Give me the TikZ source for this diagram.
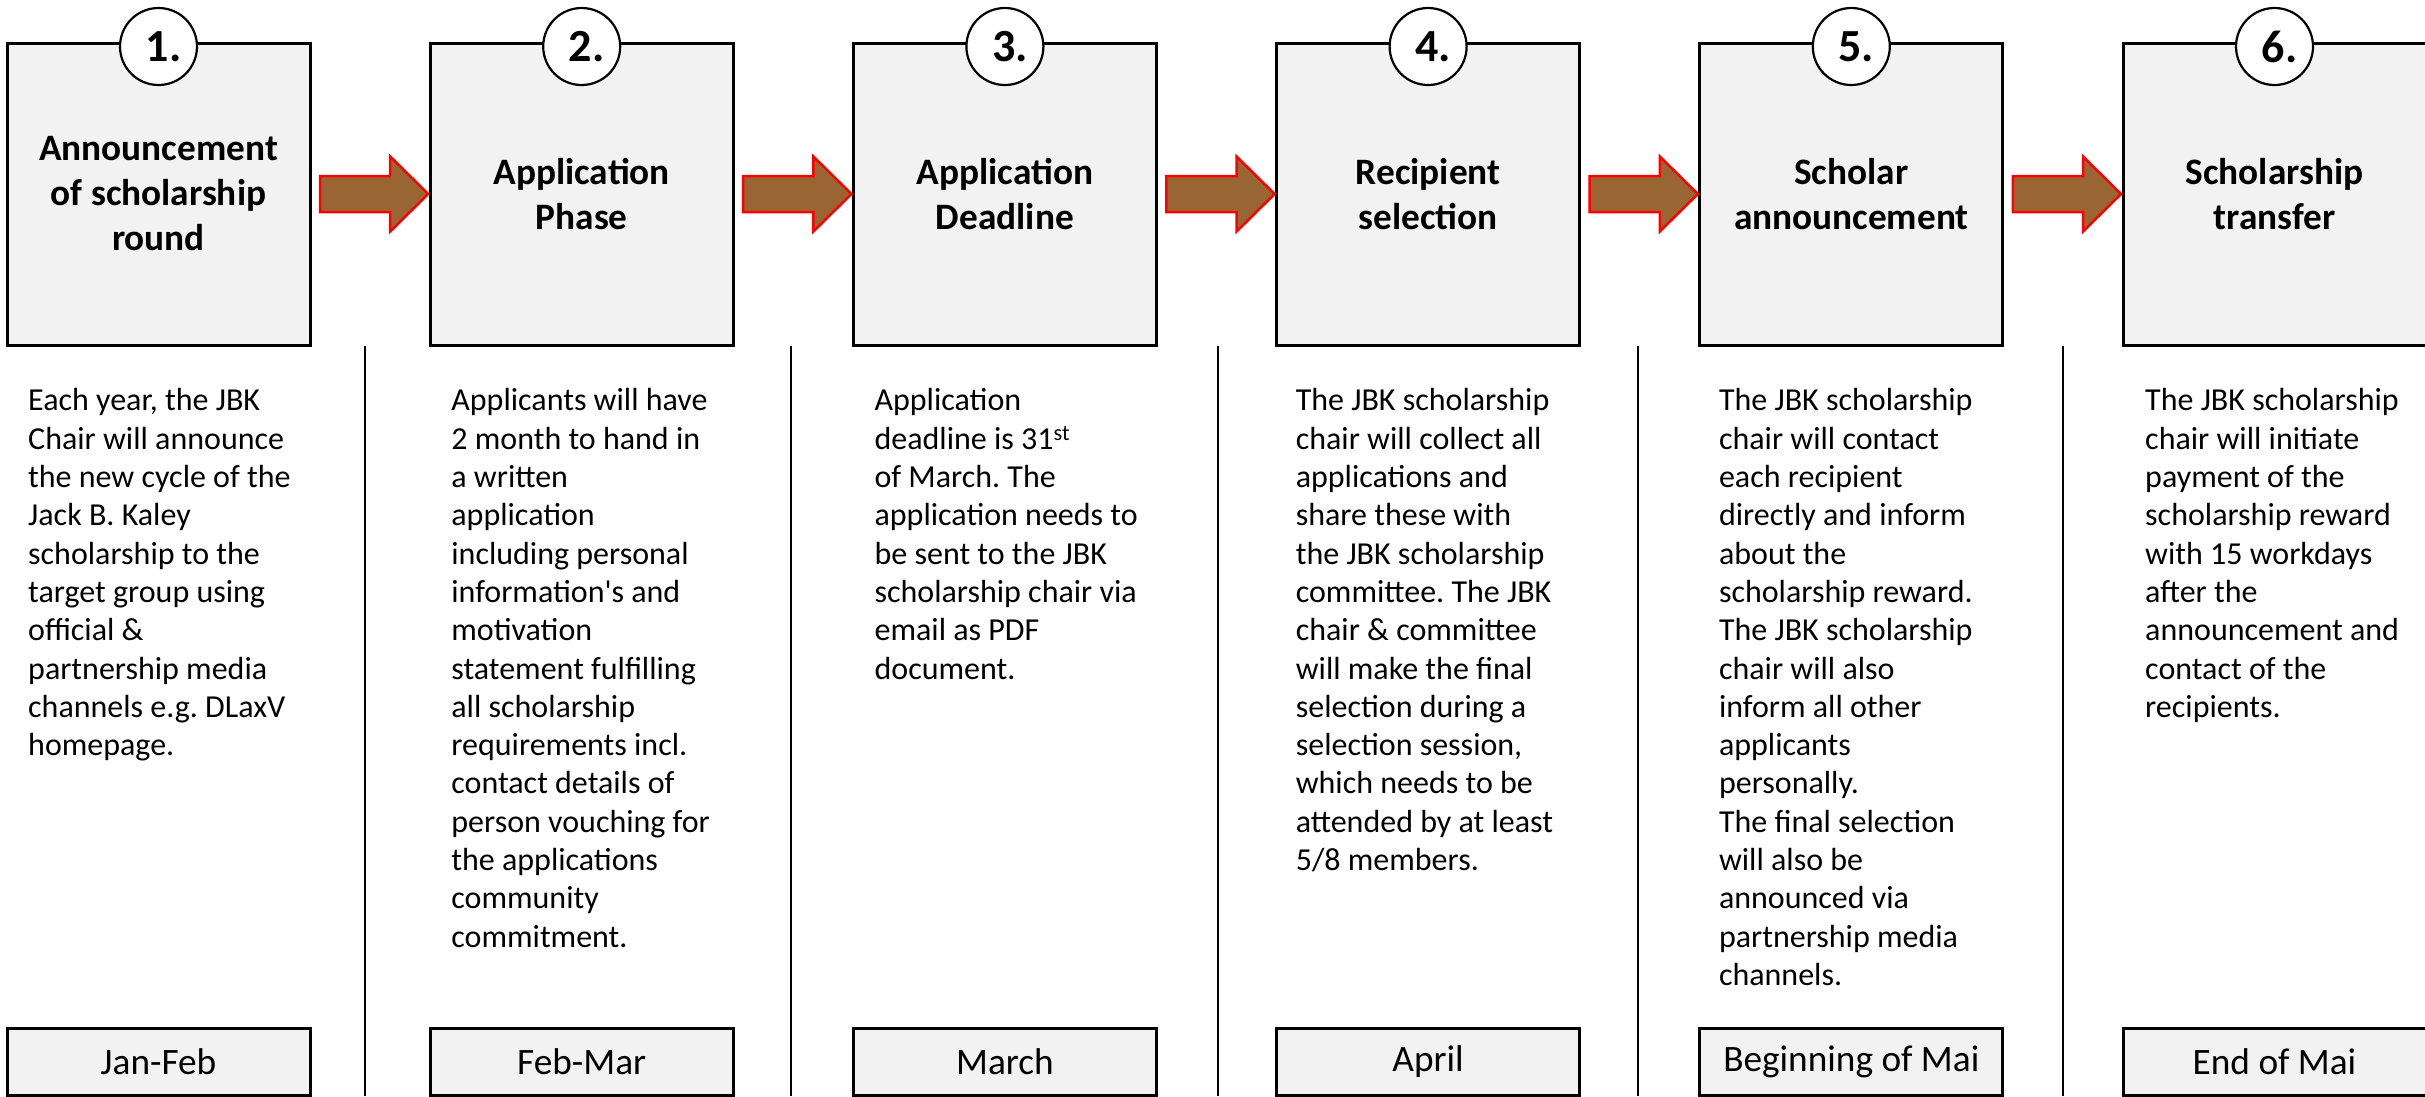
\documentclass[tikz,border=0pt]{standalone}
\usepackage{fontspec}
\setmainfont{Carlito}
\usetikzlibrary{calc}
\definecolor{boxfill}{HTML}{F2F2F2}
\definecolor{arrowfill}{HTML}{996633}
\begin{document}
\begin{tikzpicture}[x=1pt,y=-1pt,
  stepbox/.style={draw=black, line width=3pt, fill=boxfill, minimum width=303pt, minimum height=302pt,
    inner sep=0pt, outer sep=0pt, align=center, font=\fontsize{37.3}{45}\selectfont\bfseries\frenchspacing},
  numcircle/.style={circle, draw=black, line width=2.2pt, fill=white, minimum size=77pt, inner sep=0pt,
    font=\fontsize{46}{46}\selectfont\bfseries},
  bodytext/.style={anchor=north west, inner sep=0pt, align=left, font=\fontsize{32}{38.3}\selectfont\frenchspacing},
  datebox/.style={draw=black, line width=3pt, fill=boxfill, minimum width=303pt, minimum height=67pt,
    inner sep=0pt, outer sep=0pt, font=\fontsize{37.3}{45}\selectfont},
  blockarrow/.style={draw=red, line width=2.5pt, fill=arrowfill, line join=miter},
  divider/.style={draw=black, line width=2pt}]

\useasboundingbox (0,0) rectangle (2425,1096);

% step boxes
\node[stepbox] (b1) at (158.5,194) {Announcement\\of scholarship\\round};
\node[stepbox] (b2) at (581.7,194) {Application\\Phase};
\node[stepbox] (b3) at (1004.9,194) {Application\\Deadline};
\node[stepbox] (b4) at (1428.1,194) {Recipient\\selection};
\node[stepbox] (b5) at (1851.3,194) {Scholar\\announcement};
\node[stepbox] (b6) at (2274.5,194) {Scholarship\\transfer};

% number circles
\node[numcircle] (c1) at ($(b1.north)+(0,3.5)$) {\hspace*{10pt}1.};
\node[numcircle] (c2) at ($(b2.north)+(0,3.5)$) {\hspace*{10pt}2.};
\node[numcircle] (c3) at ($(b3.north)+(0,3.5)$) {\hspace*{10pt}3.};
\node[numcircle] (c4) at ($(b4.north)+(0,3.5)$) {\hspace*{10pt}4.};
\node[numcircle] (c5) at ($(b5.north)+(0,3.5)$) {\hspace*{10pt}5.};
\node[numcircle] (c6) at ($(b6.north)+(0,3.5)$) {\hspace*{10pt}6.};

% block arrows
\foreach \a/\b in {b1/b2,b2/b3,b3/b4,b4/b5,b5/b6}{
  \draw[blockarrow] ($(\a.east)+(10,-18)$) -- ($(\b.west)+(-40,-18)$) -- ($(\b.west)+(-40,-37.5)$)
    -- ($(\b.west)+(-2,0)$) -- ($(\b.west)+(-40,37.5)$) -- ($(\b.west)+(-40,18)$)
    -- ($(\a.east)+(10,18)$) -- cycle;
}

% dividers
\draw[divider] (365,345.5) -- (365,1096);
\draw[divider] (791,345.5) -- (791,1096);
\draw[divider] (1217.7,345.5) -- (1217.7,1096);
\draw[divider] (1638.3,345.5) -- (1638.3,1096);
\draw[divider] (2062.7,345.5) -- (2062.7,1096);

% body texts
\node[bodytext] (t1) at ($(b1.south west)+(21,38.9)$) {\strut Each year, the JBK\\Chair will announce\\the new cycle of the\\Jack B. Kaley\\scholarship to the\\target group using\\official \&\\partnership media\\channels e.g. DLaxV\\homepage.};
\node[bodytext] (t2) at ($(b2.south west)+(21,38.9)$) {\strut Applicants will have\\2 month to hand in\\a written\\application\\including personal\\information\textquotesingle s and\\motivation\\statement fulfilling\\all scholarship\\requirements incl.\\contact details of\\person vouching for\\the applications\\community\\commitment.};
\node[bodytext] (t3) at ($(b3.south west)+(21,38.9)$) {\strut Application\\deadline is 31\textsuperscript{st}\\of March. The\\application needs to\\be sent to the JBK\\scholarship chair via\\email as PDF\\document.};
\node[bodytext] (t4) at ($(b4.south west)+(19,38.9)$) {\strut The JBK scholarship\\chair will collect all\\applications and\\share these with\\the JBK scholarship\\committee. The JBK\\chair \& committee\\will make the final\\selection during a\\selection session,\\which needs to be\\attended by at least\\5/8 members.};
\node[bodytext] (t5) at ($(b5.south west)+(19,38.9)$) {\strut The JBK scholarship\\chair will contact\\each recipient\\directly and inform\\about the\\scholarship reward.\\The JBK scholarship\\chair will also\\inform all other\\applicants\\personally.\\The final selection\\will also be\\announced via\\partnership media\\channels.};
\node[bodytext] (t6) at ($(b6.south west)+(22,38.9)$) {\strut The JBK scholarship\\chair will initiate\\payment of the\\scholarship reward\\with 15 workdays\\after the\\announcement and\\contact of the\\recipients.};

% date boxes
\node[datebox] (d1) at (158.5,1061.5) {Jan-Feb};
\node[datebox] (d2) at (581.7,1061.5) {Feb-Mar};
\node[datebox] (d3) at (1004.9,1061.5) {March};
\node[datebox] (d4) at (1428.1,1061.5) {April};
\node[datebox] (d5) at (1851.3,1061.5) {Beginning of Mai};
\node[datebox] (d6) at (2274.5,1061.5) {End of Mai};
\end{tikzpicture}
\end{document}
